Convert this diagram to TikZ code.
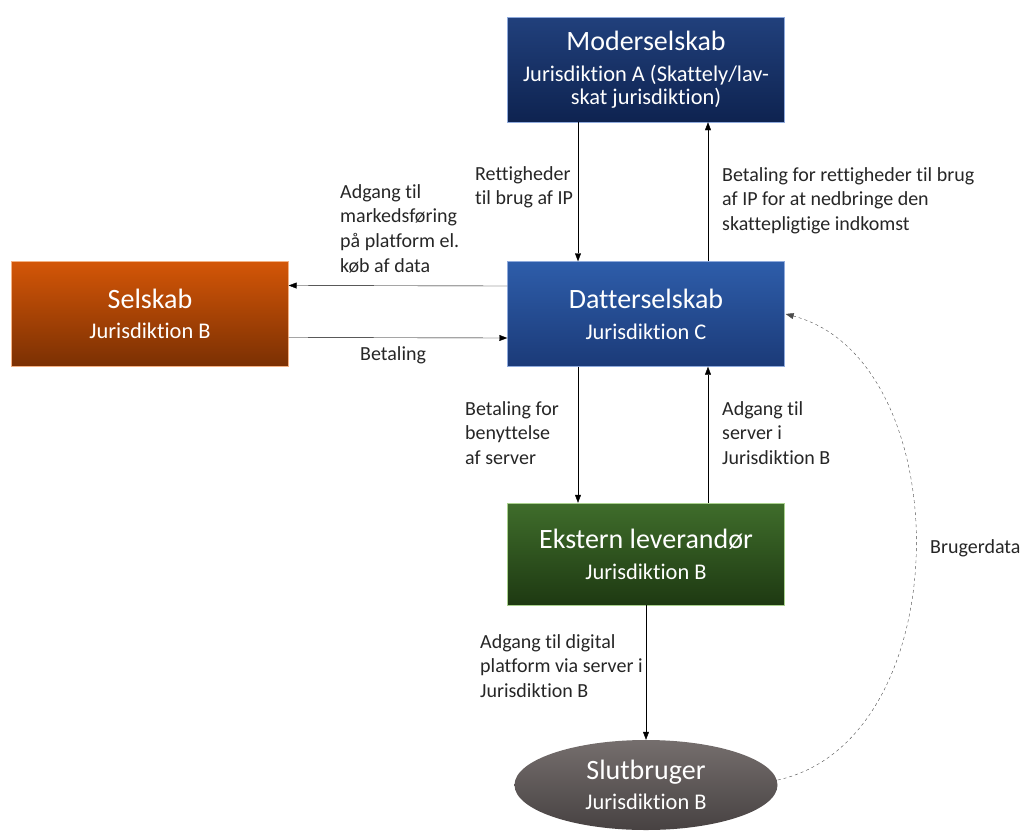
\documentclass[tikz,border=0pt]{standalone}
\usepackage{fontspec}
\setmainfont{Carlito}[Ligatures={NoCommon}]
\usetikzlibrary{arrows.meta}
\usetikzlibrary{shapes.geometric}
\usetikzlibrary{positioning}
\definecolor{modertop}{HTML}{21407C}
\definecolor{moderbot}{HTML}{0E2350}
\definecolor{dattertop}{HTML}{2E5DAA}
\definecolor{datterbot}{HTML}{1B3A78}
\definecolor{bluerim}{HTML}{8FAADC}
\definecolor{selskabtop}{HTML}{D45607}
\definecolor{selskabbot}{HTML}{7B3003}
\definecolor{orangerim}{HTML}{F4B183}
\definecolor{eksterntop}{HTML}{3F6D2B}
\definecolor{eksternbot}{HTML}{1E3912}
\definecolor{greenrim}{HTML}{A9D18E}
\definecolor{sluttop}{HTML}{756E6D}
\definecolor{slutbot}{HTML}{474242}
\newcommand{\boxhead}{\fontsize{28}{30}\selectfont}
\newcommand{\boxsub}{\fontsize{22.4}{23}\selectfont}
\tikzstyle{entity}=[draw,rectangle,minimum width=277pt,minimum height=105pt,text=white,align=center,inner sep=2pt,font=\boxsub]
\tikzstyle{note}=[anchor=north west,align=left,inner sep=0pt,text=black!85,font=\fontsize{20}{24.7}\selectfont]

\begin{document}
\begin{tikzpicture}[x=1pt,y=-1pt,thin,>={Triangle[length=8pt,width=6pt]}]
\useasboundingbox (0,0) rectangle (1023,833);
% selskaber
\node [entity,draw=bluerim,top color=modertop,bottom color=moderbot] (moder) at (646,69.5)
  {{\boxhead Moderselskab}\\[8pt]Jurisdiktion A (Skattely/lav-\\skat jurisdiktion)};
\node [entity,draw=bluerim,top color=dattertop,bottom color=datterbot] (datter) at (646,314)
  {{\boxhead Datterselskab}\\[8pt]Jurisdiktion C};
\node [entity,draw=orangerim,top color=selskabtop,bottom color=selskabbot] (selskab) at (150,313.5)
  {{\boxhead Selskab}\\[7pt]Jurisdiktion B};
\node [entity,draw=greenrim,top color=eksterntop,bottom color=eksternbot,minimum height=102pt] (ekstern) at (646,554)
  {{\boxhead Ekstern leverandør}\\[8pt]Jurisdiktion B};
\node [ellipse,text=white,align=center,font=\boxsub,minimum width=263pt,minimum height=90pt,inner sep=0pt,
  top color=sluttop,bottom color=slutbot] (slut) at (646,785)
  {{\boxhead Slutbruger}\\[7pt]Jurisdiktion B};

% pile
\draw [->] ([xshift=-68pt]moder.south) -- ([xshift=-68pt]datter.north);
\draw [->] ([xshift=62pt]datter.north) -- ([xshift=62pt]moder.south);
\draw [->] ([yshift=28pt]datter.west) -- ([yshift=28pt]selskab.east);
\draw [->] ([yshift=-24pt]selskab.east) -- ([yshift=-24pt]datter.west);
\draw [->] ([xshift=-68pt]datter.south) -- ([xshift=-68pt]ekstern.north);
\draw [->] ([xshift=62pt]ekstern.north) -- ([xshift=62pt]datter.south);
\draw [->] (ekstern.south) -- (slut.north);
\draw [->,dashed,black!70] ([yshift=5pt]slut.east) .. controls (960,740) and (960,360) .. ([xshift=1pt]datter.east);

% tekster
\node [note] (ret) at (475,166) {Rettigheder\\til brug af IP};
\node [note] (betip) at (722,167) {Betaling for rettigheder til brug\\af IP for at nedbringe den\\skattepligtige indkomst};
\node [note] (adgmark) at (340,184) {Adgang til\\markedsføring\\på platform el.\\køb af data};
\node [note] (bet) at (360,346) {Betaling};
\node [note] (betserv) at (465,401) {Betaling for\\benyttelse\\af server};
\node [note] (adgserv) at (722,401) {Adgang til\\server i\\Jurisdiktion B};
\node [note] (adgdig) at (480,634) {Adgang til digital\\platform via server i\\Jurisdiktion B};
\node [note] (brug) at (930,539) {Brugerdata};
\end{tikzpicture}
\end{document}
